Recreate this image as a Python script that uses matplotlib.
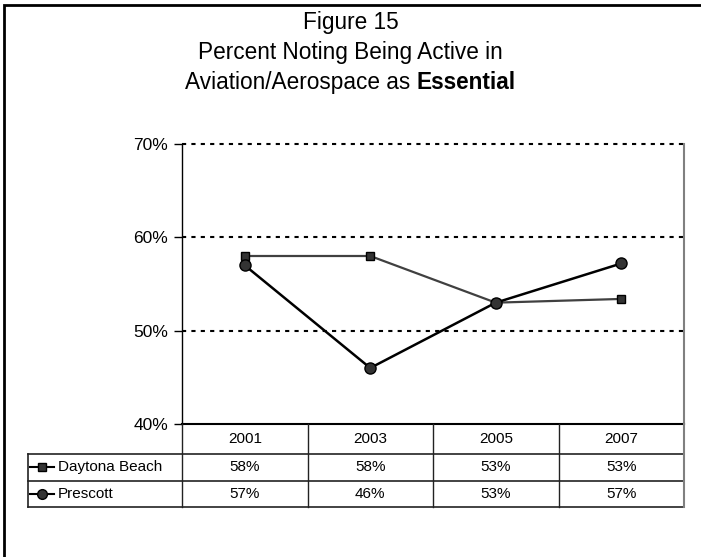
import matplotlib
matplotlib.use('Agg')
import matplotlib.pyplot as plt
from matplotlib.patches import Rectangle
import numpy as np

plt.rcParams['font.family'] = ['Liberation Sans', 'DejaVu Sans']

# data
years = ['2001', '2003', '2005', '2007']
daytona = [58, 58, 53, 53.4]
prescott = [57, 46, 53, 57.2]
series_names = ['Daytona Beach', 'Prescott']
yticks = [40, 50, 60, 70]

W, H = 701, 557
fig = plt.figure(figsize=(W / 100, H / 100), dpi=100)

def fx(px):
    return px / W

def fy(py):
    return 1 - py / H

# outer frame (right/bottom edges run off the picture)
fig.patches.append(Rectangle((fx(4), fy(600)), fx(760), fy(5) - fy(600),
                             transform=fig.transFigure, fill=False,
                             edgecolor='black', linewidth=2))

# title
fig.text(0.5, fy(22), 'Figure 15', ha='center', va='center', fontsize=16.3)
fig.text(0.5, fy(52), 'Percent Noting Being Active in', ha='center',
         va='center', fontsize=16.3)
# last line: plain part + bold part, centred together
fig.canvas.draw()
r = fig.canvas.get_renderer()
ta = fig.text(0, fy(82), 'Aviation/Aerospace as ', fontsize=16.3, va='center')
tb = fig.text(0, fy(82), 'Essential', fontsize=16.3, va='center',
              fontweight='bold')
wa = ta.get_window_extent(r).width
wb = tb.get_window_extent(r).width
x0 = (W - wa - wb) / 2
ta.set_x(fx(x0))
tb.set_x(fx(x0 + wa))

# plot area
left, right, top, bottom = 182, 684, 144, 424
ax = fig.add_axes([fx(left), fy(bottom), fx(right - left), fy(top) - fy(bottom)])
x = np.arange(len(years))
ax.set_xlim(-0.5, len(years) - 0.5)
ax.set_ylim(40, 70)
ax.set_yticks(yticks)
ax.set_yticklabels([f'{v}%' for v in yticks], fontsize=12.5)
ax.set_xticks([])
ax.tick_params(axis='y', length=6, width=1, direction='out', pad=4)
for yv in yticks[1:]:
    ax.axhline(yv, color='black', linestyle=(0, (2, 2.5)), linewidth=1.5,
               zorder=1, clip_on=False)
ax.spines['top'].set_visible(False)
ax.spines['right'].set_color('#808080')
ax.spines['right'].set_linewidth(1.5)
ax.spines['left'].set_linewidth(1)
ax.spines['bottom'].set_linewidth(1.5)

ax.plot(x, daytona, color='#404040', linewidth=1.6, marker='s', markersize=6,
        markerfacecolor='#333333', markeredgecolor='black', zorder=3)
ax.plot(x, prescott, color='black', linewidth=1.8, marker='o', markersize=8,
        markerfacecolor='#333333', markeredgecolor='black', zorder=4)

# data table below the plot
tleft = 28
rows = [424, 454, 480.5, 507]
tab = fig.add_axes([fx(tleft), fy(rows[-1]), fx(right - tleft),
                    fy(rows[0]) - fy(rows[-1])])
cat_w = (right - left) / len(years)
tab.set_xlim(-0.5 - (left - tleft) / cat_w, len(years) - 0.5)
tab.set_ylim(rows[-1], rows[0])
tab.axis('off')
lc = '#222222'
xl = tab.get_xlim()[0]
for yr in rows[1:]:
    tab.plot([xl, len(years) - 0.5], [yr, yr], color=lc, lw=1.2, clip_on=False)
for b in np.arange(len(years)) - 0.5:
    tab.plot([b, b], [rows[0], rows[-1]], color=lc, lw=1, clip_on=False)
tab.plot([len(years) - 0.5] * 2, [rows[0], rows[-1]], color='#808080', lw=1.5,
         clip_on=False)
tab.plot([xl, xl], [rows[1], rows[-1]], color=lc, lw=1.2, clip_on=False)

for i, yr in enumerate(years):
    tab.text(i, (rows[0] + rows[1]) / 2, yr, ha='center', va='center',
             fontsize=11)

px = 1 / cat_w
for k, (name, vals, mk, ms) in enumerate([(series_names[0], daytona, 's', 6),
                                          (series_names[1], prescott, 'o', 7)]):
    yc = (rows[k + 1] + rows[k + 2]) / 2
    tab.plot([xl + 2 * px, xl + 26 * px], [yc, yc], color='black', lw=1.5,
             clip_on=False)
    tab.plot([xl + 14 * px], [yc], marker=mk, markersize=ms,
             markerfacecolor='#333333', markeredgecolor='black', clip_on=False)
    tab.text(xl + 30 * px, yc, name, ha='left', va='center', fontsize=11)
    for i, v in enumerate(vals):
        tab.text(i, yc, f'{round(v)}%', ha='center', va='center', fontsize=11)

fig.savefig('out.png', dpi=100)
